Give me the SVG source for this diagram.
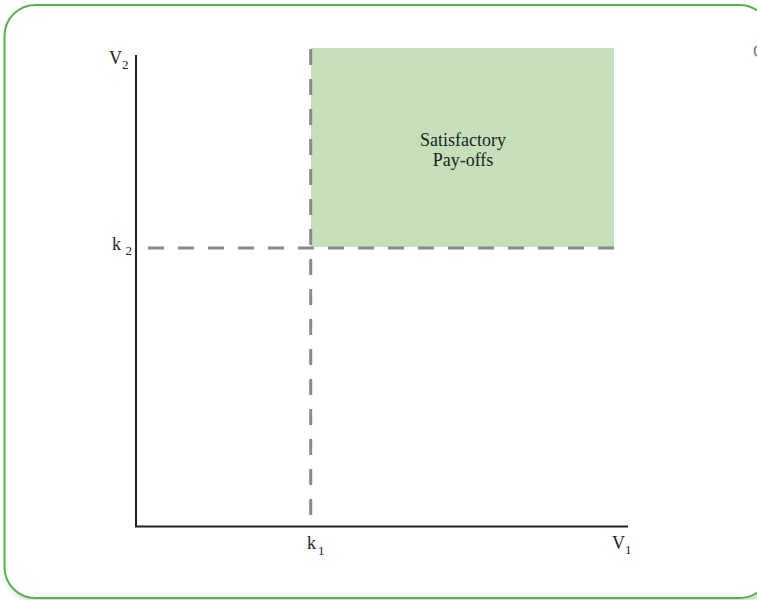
<svg xmlns="http://www.w3.org/2000/svg" width="757" height="600" viewBox="0 0 757 600">
  <defs>
    <filter id="sh" x="-5%" y="-5%" width="110%" height="110%">
      <feGaussianBlur stdDeviation="3"/>
    </filter>
  </defs>
  <style>
    .lbl { font-family: "Liberation Serif", "Times New Roman", serif; font-size: 18px; fill: #222; }
    .sub { font-size: 13px; }
    .axis { stroke: #222; stroke-width: 2; fill: none; }
    .dash { stroke: #8a8a8e; stroke-width: 3; stroke-dasharray: 16 14; fill: none; }
  </style>
  <rect width="757" height="600" fill="#ffffff"/>
  <g id="frame">
    <rect x="6" y="8" width="768" height="594" rx="32" ry="32" fill="#d0d0d0" filter="url(#sh)"/>
    <rect x="4.5" y="5" width="766" height="593" rx="31" ry="31" fill="#ffffff" stroke="#55b24f" stroke-width="2"/>
    <text x="753" y="57" font-family="Liberation Sans, sans-serif" font-size="16" fill="#777">C</text>
  </g>
  <g id="region">
    <rect x="311" y="48" width="303" height="199" fill="#c5dfbb"/>
    <text class="lbl" x="463" y="146" text-anchor="middle">Satisfactory</text>
    <text class="lbl" x="463" y="166" text-anchor="middle">Pay-offs</text>
  </g>
  <g id="connectors">
    <line class="dash" x1="148" y1="248" x2="614" y2="248"/>
    <line class="dash" x1="310.7" y1="49" x2="310.7" y2="520"/>
    <line class="axis" x1="136" y1="55" x2="136" y2="526.5"/>
    <line class="axis" x1="135" y1="526.5" x2="628" y2="526.5"/>
  </g>
  <g id="labels">
    <text class="lbl" x="109" y="64">V<tspan class="sub" dy="5">2</tspan></text>
    <text class="lbl" x="112" y="250">k <tspan class="sub" dy="5">2</tspan></text>
    <text class="lbl" x="307" y="549">k<tspan class="sub" dx="2" dy="6">1</tspan></text>
    <text class="lbl" x="612" y="549">V<tspan class="sub" dy="5">1</tspan></text>
  </g>
</svg>
